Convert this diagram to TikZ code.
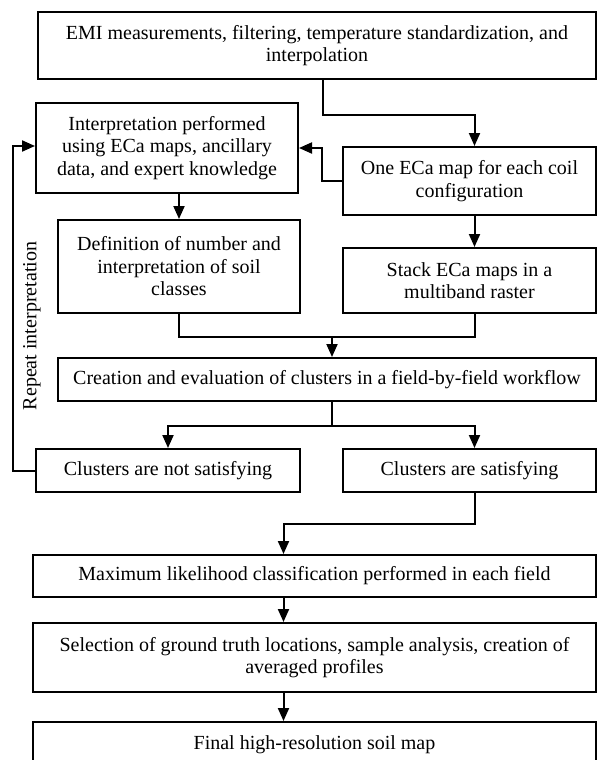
\documentclass[tikz,border=0pt]{standalone}
\usepackage{fontspec}
\setmainfont{Liberation Serif}
\usetikzlibrary{arrows.meta}
\begin{document}
\begin{tikzpicture}[x=1pt,y=-1pt,
		box/.style={draw,line width=2pt,align=center,inner sep=0pt,font=\fontsize{20}{22.5}\selectfont},
		ln/.style={line width=2pt},
		arr/.style={line width=2pt,-{Triangle[width=11pt,length=13pt]}}]
		\useasboundingbox (0,0) rectangle (597,760);
		\node[box,minimum width=558pt,minimum height=67pt] (emi) at (317,45.5) {EMI measurements, filtering, temperature standardization, and\\interpolation};
		\node[box,minimum width=262pt,minimum height=90pt] (interp) at (167,148) {Interpretation performed\\using ECa maps, ancillary\\data, and expert knowledge};
		\node[box,minimum width=253pt,minimum height=68pt] (onemap) at (469.5,181) {One ECa map for each coil\\configuration};
		\node[box,minimum width=242pt,minimum height=93pt] (defn) at (179,266.5) {Definition of number and\\interpretation of soil\\classes};
		\node[box,minimum width=253pt,minimum height=65pt] (stack) at (469.5,280.5) {Stack ECa maps in a\\multiband raster};
		\node[box,minimum width=538pt,minimum height=43pt] (create) at (327,379.5) {Creation and evaluation of clusters in a field-by-field workflow};
		\node[box,minimum width=264pt,minimum height=43pt] (notsat) at (168,470.5) {Clusters are not satisfying};
		\node[box,minimum width=253pt,minimum height=43pt] (sat) at (469.5,470.5) {Clusters are satisfying};
		\node[box,minimum width=563pt,minimum height=42pt] (maxlik) at (314.5,576) {Maximum likelihood classification performed in each field};
		\node[box,minimum width=563pt,minimum height=69pt] (select) at (314.5,657.5) {Selection of ground truth locations, sample analysis, creation of\\averaged profiles};
		\node[box,minimum width=563pt,minimum height=46pt] (final) at (314.5,745) {Final high-resolution soil map};
		\node[rotate=90,font=\fontsize{20}{22.5}\selectfont] (repeat) at (32,326) {Repeat interpretation};
		% connectors
		\draw[arr] ([xshift=6pt]emi.south) -- ++(0,35) -| ([xshift=5pt]onemap.north);
		\draw[arr] (onemap.west) -- ++(-20,0) |- (interp.east);
		\draw[arr] (interp.south -| defn.north) -- (defn.north);
		\draw[arr] ([xshift=5pt]onemap.south) -- ([xshift=5pt]stack.north);
		\coordinate (join) at (332,337);
		\draw[ln] (defn.south) |- (join);
		\draw[ln] ([xshift=5pt]stack.south) |- (join);
		\draw[arr] (join) -- (join |- create.north);
		\draw[ln] (join |- create.south) -- ++(0,24) coordinate (split);
		\draw[arr] (split) -| (notsat.north);
		\draw[arr] (split) -| ([xshift=5pt]sat.north);
		\draw[arr] (notsat.west) -- ++(-22,0) |- ([yshift=2pt]interp.west);
		\draw[arr] ([xshift=5pt]sat.south) -- ++(0,31) -| ([xshift=-31pt]maxlik.north);
		\draw[arr] ([xshift=-31pt]maxlik.south) -- ([xshift=-31pt]select.north);
		\draw[arr] ([xshift=-31pt]select.south) -- ([xshift=-31pt]final.north);
	\end{tikzpicture}
\end{document}
